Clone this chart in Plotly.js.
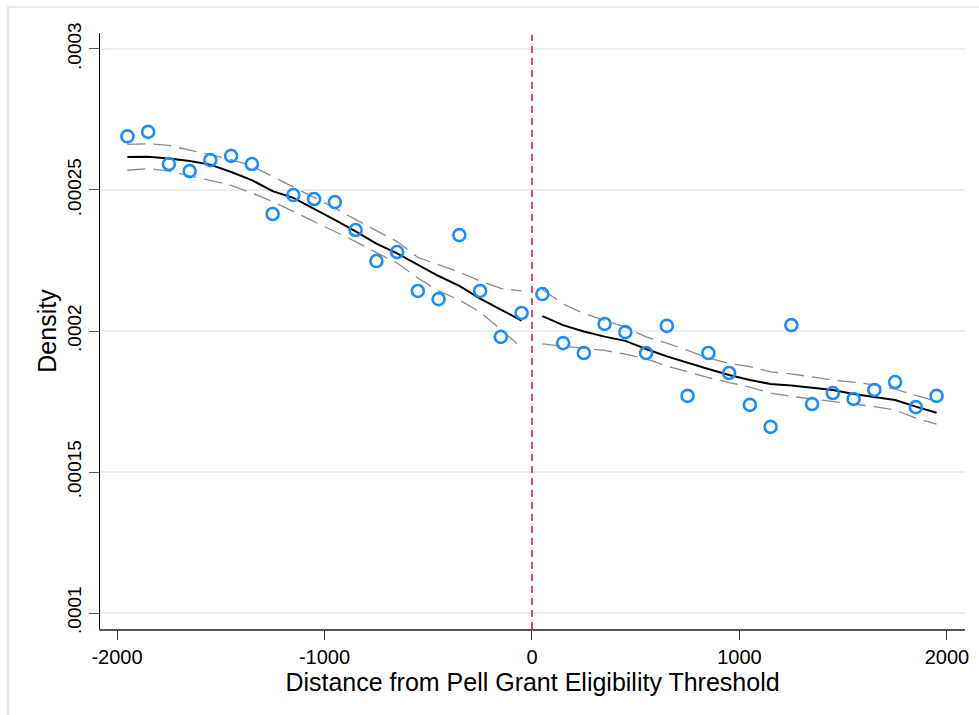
<!DOCTYPE html>
<html>
<head>
<meta charset="utf-8">
<script src="https://cdn.plot.ly/plotly-3.0.1.min.js"></script>
<style>html,body{margin:0;padding:0;background:#fff;}#chart{width:979px;height:715px;}</style>
</head>
<body>
<div id="chart"></div>
<script>
// Bin centers (distance from threshold)
const xLeft = [-1950,-1850,-1750,-1650,-1550,-1450,-1350,-1250,-1150,-1050,-950,-850,-750,-650,-550,-450,-350,-250,-150,-50];
const xRight = [50,150,250,350,450,550,650,750,850,950,1050,1150,1250,1350,1450,1550,1650,1750,1850,1950];

// Binned density (circles)
const densLeft = [0.000269,0.0002706,0.0002592,0.0002567,0.0002606,0.0002621,0.0002592,0.0002415,0.0002482,0.0002468,0.0002457,0.0002358,0.0002248,0.000228,0.0002142,0.0002113,0.000234,0.0002142,0.0001979,0.0002064];
const densRight = [0.0002131,0.0001957,0.0001922,0.0002025,0.0001996,0.0001922,0.0002018,0.000177,0.0001922,0.0001851,0.0001738,0.000166,0.0002021,0.0001741,0.000178,0.0001759,0.0001791,0.0001819,0.000173,0.000177];

// Local linear fit and confidence bands
const fitLeft = [0.0002617,0.0002618,0.0002612,0.0002603,0.000259,0.0002564,0.0002535,0.0002496,0.0002472,0.0002434,0.0002394,0.0002353,0.000231,0.0002275,0.0002234,0.0002195,0.000216,0.0002115,0.0002076,0.0002037];
const hiLeft = [0.0002662,0.0002664,0.0002658,0.0002642,0.0002624,0.0002608,0.0002585,0.0002548,0.0002511,0.0002475,0.0002436,0.0002395,0.0002355,0.0002317,0.0002261,0.0002234,0.0002209,0.0002177,0.0002151,0.0002142];
const loLeft = [0.000257,0.0002576,0.0002567,0.0002551,0.0002534,0.0002516,0.0002489,0.0002459,0.0002424,0.0002388,0.0002353,0.0002317,0.0002278,0.0002241,0.0002188,0.0002142,0.000211,0.0002067,0.0002005,0.0001941];

const fitRight = [0.0002053,0.0002021,0.0001998,0.000198,0.0001965,0.0001936,0.000191,0.0001887,0.0001865,0.0001844,0.0001826,0.0001812,0.0001807,0.0001799,0.0001791,0.0001777,0.0001767,0.0001755,0.0001732,0.000171];
const hiRight = [0.0002147,0.0002096,0.0002062,0.0002037,0.0002014,0.0001979,0.0001957,0.0001931,0.0001904,0.0001885,0.0001874,0.0001855,0.0001848,0.0001837,0.0001826,0.0001819,0.0001809,0.0001794,0.0001771,0.000175];
const loRight = [0.0001954,0.0001947,0.000194,0.0001931,0.0001918,0.0001901,0.0001876,0.0001855,0.0001835,0.0001817,0.0001801,0.000178,0.0001768,0.0001759,0.000175,0.0001741,0.0001732,0.000172,0.0001691,0.000167];

const threshold = 0;
const xTicks = [-2000,-1000,0,1000,2000];
const xTickText = ['-2000','-1000','0','1000','2000'];
const yTicks = [0.0001,0.00015,0.0002,0.00025,0.0003];
const yTickText = ['.0001','.00015','.0002','.00025','.0003'];

const FONT = 'Liberation Sans, Arial, Helvetica, sans-serif';
const ciStyle = {color:'#8a8a8a', width:1.3, dash:'18px,8px'};
const fitStyle = {color:'#000000', width:2};
const mk = {symbol:'circle-open', size:12, color:'#1a8cff', line:{width:2.6, color:'#1a8cff'}};

const traces = [
  {x:xLeft, y:hiLeft, mode:'lines', line:ciStyle, hoverinfo:'skip'},
  {x:xLeft, y:loLeft, mode:'lines', line:ciStyle, hoverinfo:'skip'},
  {x:xRight, y:hiRight, mode:'lines', line:ciStyle, hoverinfo:'skip'},
  {x:xRight, y:loRight, mode:'lines', line:ciStyle, hoverinfo:'skip'},
  {x:xLeft, y:fitLeft, mode:'lines', line:fitStyle},
  {x:xRight, y:fitRight, mode:'lines', line:fitStyle},
  {x:xLeft, y:densLeft, mode:'markers', marker:mk},
  {x:xRight, y:densRight, mode:'markers', marker:mk}
];

const layout = {
  width:979, height:715,
  margin:{l:100, r:14, t:33, b:86},
  paper_bgcolor:'#ffffff', plot_bgcolor:'#ffffff',
  showlegend:false,
  font:{family:FONT, size:19, color:'#000'},
  xaxis:{
    range:[-2082, 2087],
    tickvals:xTicks, ticktext:xTickText,
    ticks:'outside', ticklen:9, tickwidth:1, tickcolor:'#333',
    showline:true, linecolor:'#555', linewidth:1.5,
    showgrid:false, zeroline:false,
    tickfont:{size:20, family:FONT},
    title:{text:'Distance from Pell Grant Eligibility Threshold', font:{size:25, family:FONT}, standoff:4}
  },
  yaxis:{
    range:[0.00009433, 0.00030567],
    tickvals:yTicks, ticktext:yTickText,
    tickangle:-90,
    ticks:'outside', ticklen:10, tickwidth:1, tickcolor:'#555',
    showline:true, linecolor:'#000', linewidth:1.5,
    showgrid:true, gridcolor:'#e8eff2', gridwidth:1.5,
    zeroline:false,
    tickfont:{size:19, family:FONT},
    title:{text:'Density', font:{size:25, family:FONT}, standoff:0}
  },
  shapes:[
    {type:'line', xref:'x', yref:'paper', x0:threshold, x1:threshold, y0:0, y1:0.997,
     line:{color:'#d4103c', width:1.5, dash:'7px,5px'}, layer:'above'},
    {type:'rect', xref:'paper', yref:'paper', x0:-0.1064, y0:-0.17, x1:1.05, y1:1.0436,
     line:{color:'#e4ebee', width:2}, fillcolor:'rgba(0,0,0,0)', layer:'below'}
  ]
};

Plotly.newPlot('chart', traces, layout, {displayModeBar:false, staticPlot:true});
</script>
</body>
</html>
